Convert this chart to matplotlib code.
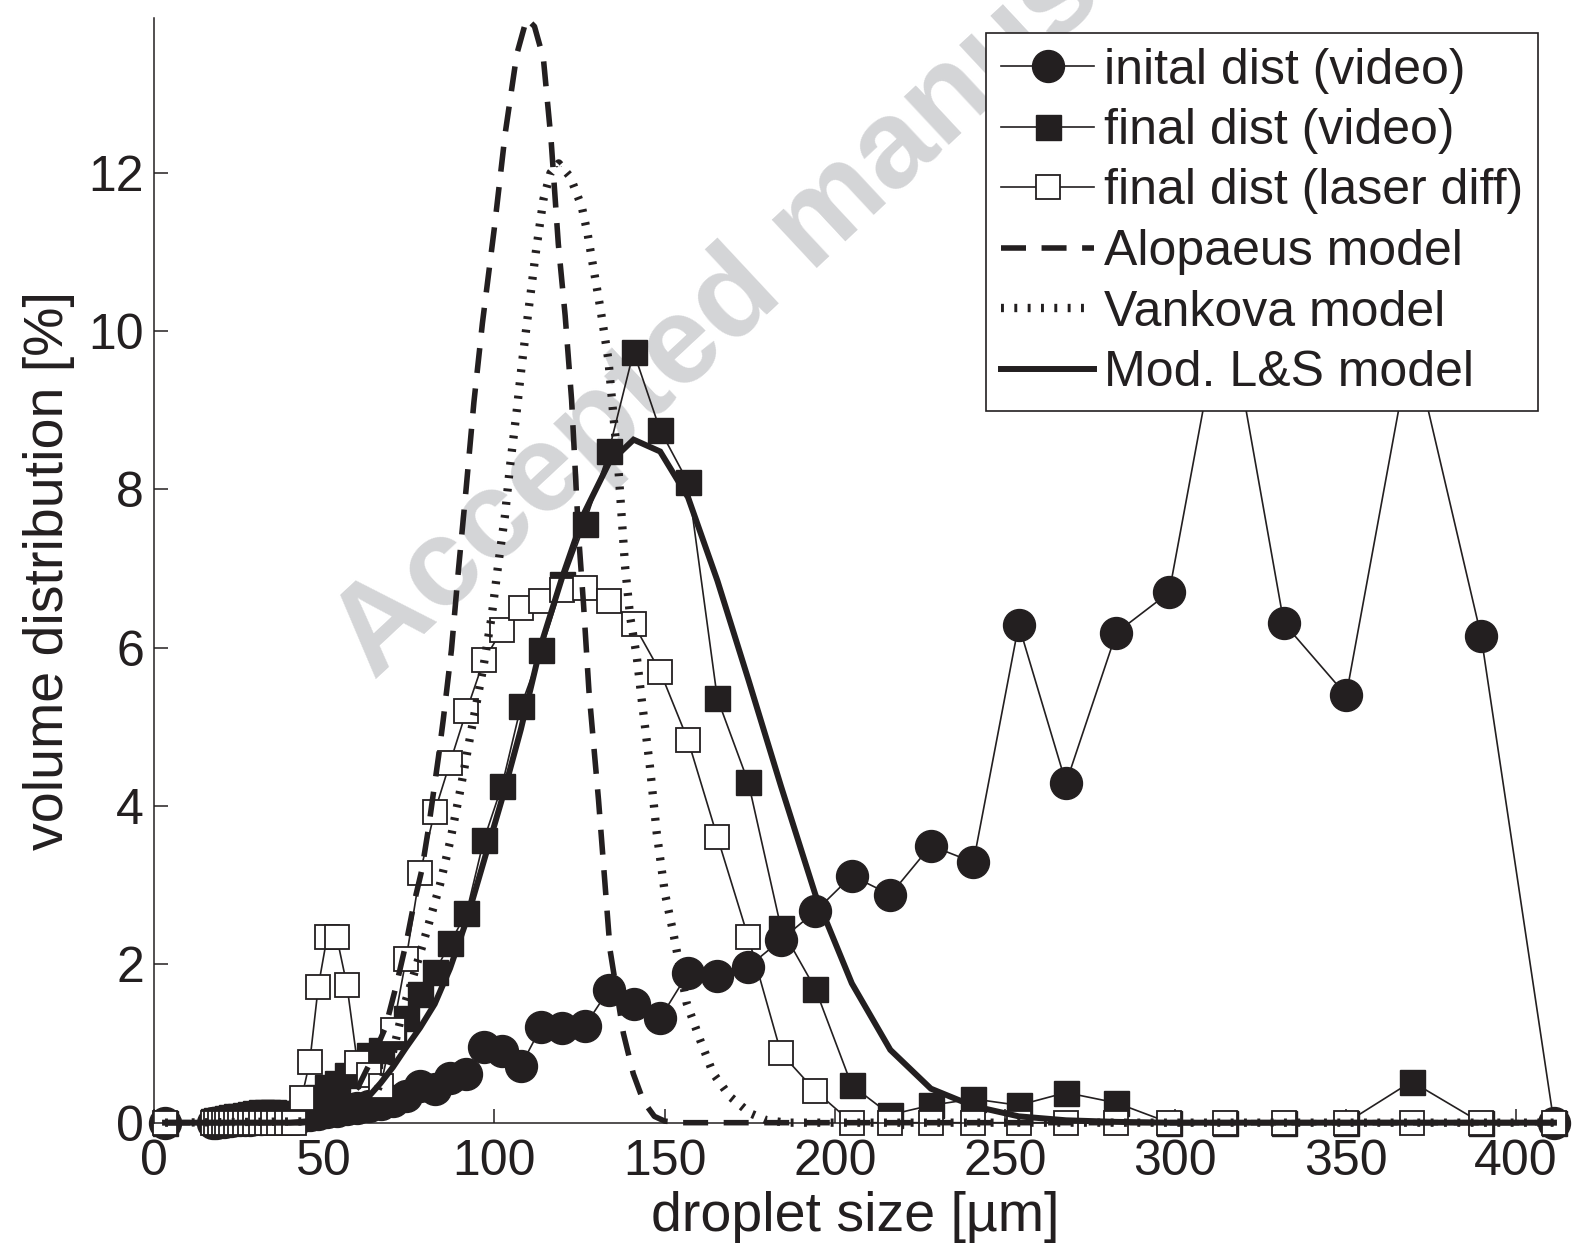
import matplotlib
matplotlib.use("Agg")
import matplotlib.pyplot as plt

plt.rcParams['font.family'] = ['Liberation Sans', 'DejaVu Sans']

INK = '#231f20'

# Droplet size bin centres [um]
size_bins = [3.3, 17.4, 18.4, 19.4, 20.5, 21.6, 22.8, 24.0, 25.4, 26.8, 28.2,
             29.8, 31.4, 33.2, 35.0, 36.9, 39.0, 41.1, 43.4, 45.8, 48.3, 50.9,
             53.7, 56.7, 59.8, 63.1, 66.6, 70.2, 74.1, 78.2, 82.5, 87.0, 91.8,
             96.9, 102.2, 107.8, 113.8, 120.0, 126.6, 133.6, 140.9, 148.7,
             156.9, 165.5, 174.6, 184.2, 194.3, 205.0, 216.3, 228.2, 240.7,
             254.0, 267.9, 282.7, 298.2, 314.6, 331.9, 350.2, 369.4, 389.8,
             411.2]

# Volume distributions [%]
initial_video = [0, 0.0, 0.0, 0.01, 0.01, 0.02, 0.02, 0.03, 0.03, 0.04, 0.04,
                 0.05, 0.05, 0.06, 0.06, 0.07, 0.07, 0.08, 0.09, 0.10, 0.11,
                 0.13, 0.15, 0.17, 0.19, 0.21, 0.24, 0.28, 0.34, 0.46, 0.43,
                 0.56, 0.62, 0.95, 0.91, 0.72, 1.21, 1.19, 1.22, 1.68, 1.50,
                 1.32, 1.89, 1.85, 1.97, 2.31, 2.67, 3.12, 2.88, 3.50, 3.29,
                 6.29, 4.29, 6.19, 6.70, 10.5, 6.31, 5.40, 9.9, 6.15, 0]

final_video = [0, 0.02, 0.03, 0.04, 0.05, 0.06, 0.07, 0.08, 0.09, 0.10, 0.11,
               0.12, 0.13, 0.13, 0.13, 0.12, 0.10, 0.09, 0.12, 0.20, 0.33,
               0.45, 0.50, 0.60, 0.75, 0.85, 0.92, 1.10, 1.32, 1.63, 1.90,
               2.27, 2.65, 3.57, 4.25, 5.26, 5.97, 6.80, 7.57, 8.48, 9.74,
               8.75, 8.09, 5.36, 4.30, 2.46, 1.69, 0.47, 0.10, 0.22, 0.30,
               0.22, 0.38, 0.25, 0, 0, 0, 0, 0.52, 0, 0]

laser_diff = [0, 0, 0, 0, 0, 0, 0, 0, 0, 0, 0, 0, 0, 0, 0, 0, 0, 0,
              0.31, 0.77, 1.72, 2.35, 2.35, 1.74, 0.75, 0.60, 0.46, 1.17,
              2.07, 3.16, 3.93, 4.55, 5.20, 5.84, 6.22, 6.50, 6.59, 6.73,
              6.75, 6.59, 6.30, 5.70, 4.83, 3.61, 2.34, 0.88, 0.40,
              0, 0, 0, 0, 0, 0, 0, 0, 0, 0, 0, 0, 0, 0]

# Model predictions
alopaeus_x = [3.3, 40, 45, 50, 55, 60, 64, 68, 71.3, 74.3, 76.4, 78.7, 80.6,
              82.1, 83.6, 85.0, 87.4, 89.5, 91.7, 94.0, 96.5, 100.0, 103.2,
              106.6, 109.5, 111.8, 114.4, 116.7, 118.8, 120.8, 122.7, 123.7,
              124.7, 126.2, 127.8, 130.6, 132.5, 134.0, 137.9, 140.8, 143.8,
              147.0, 150.0, 155.0, 411.2]
alopaeus_y = [0, 0, 0.02, 0.08, 0.2, 0.45, 0.8, 1.2, 1.75, 2.31, 2.77, 3.19,
              3.70, 4.16, 4.62, 5.09, 5.97, 7.0, 8.0, 9.1, 10.1, 11.3, 12.5,
              13.5, 13.95, 13.85, 13.45, 12.4, 11.1, 10.2, 9.13, 8.3, 7.45,
              6.55, 5.45, 4.08, 3.02, 2.18, 1.13, 0.62, 0.27, 0.08, 0.02, 0, 0]

vankova_x = [3.3, 55, 60, 65, 70, 73, 76.2, 80, 84, 87, 90, 93, 96.8, 99.2,
             101.2, 103.1, 104.6, 106.6, 108, 110, 112.2, 114.4, 116.5, 118.9,
             122.3, 125.7, 127.4, 129.1, 131.1, 133.5, 135, 136.4, 137.4,
             138.4, 139.9, 141.8, 143.3, 145.7, 147.7, 150.1, 152.6, 156.5,
             160.4, 164.3, 169.2, 175.1, 180, 186, 411.2]
vankova_y = [0, 0.02, 0.1, 0.35, 0.85, 1.4, 1.85, 2.4, 3.0, 3.55, 4.2, 4.9,
             5.76, 6.39, 7.07, 7.66, 8.29, 9.0, 9.55, 10.25, 11.0, 11.66, 12.0,
             12.12, 11.95, 11.57, 11.23, 10.8, 10.3, 9.64, 8.92, 8.29, 7.66,
             7.03, 6.39, 5.9, 5.34, 4.5, 3.66, 2.9, 2.39, 1.51, 1.05, 0.62,
             0.33, 0.12, 0.03, 0, 0]

ls_x = [3.3, 43.4, 45.8, 48.3, 50.9, 53.7, 56.7, 59.8, 63.1, 66.6, 70.2,
        74.1, 78.2, 82.5, 87.0, 91.8, 96.9, 102.2, 107.8, 113.8, 120.0,
        126.6, 133.6, 140.9, 148.7, 156.9, 165.5, 174.6, 184.2, 194.3, 205.0,
        216.3, 228.2, 240.7, 254.0, 267.9, 282.7, 298.2, 411.2]
ls_y = [0, 0, 0.01, 0.02, 0.04, 0.07, 0.12, 0.2, 0.33, 0.5, 0.7, 0.95, 1.2,
        1.5, 1.95, 2.55, 3.3, 4.08, 4.97, 6.05, 6.9, 7.72, 8.33, 8.63, 8.48,
        7.9, 6.85, 5.6, 4.25, 2.88, 1.76, 0.92, 0.43, 0.21, 0.08, 0.03, 0.01,
        0, 0]

x_ticks = [0, 50, 100, 150, 200, 250, 300, 350, 400]
y_ticks = [0, 2, 4, 6, 8, 10, 12]

fig = plt.figure(figsize=(15.76, 12.47), dpi=100)
fig.patch.set_facecolor('white')

# watermark behind the axes
fig.text(0.2376, 0.4543, 'Accepted manuscript', rotation=43,
         rotation_mode='anchor', ha='left', va='baseline', fontsize=90,
         fontweight='bold', color='#d4d5d7', zorder=-1)

ax = fig.add_axes([0.0976, 0.0997, 0.8897, 0.8858])
ax.patch.set_visible(False)

ax.plot(size_bins, initial_video, '-', color=INK, lw=1.2, marker='o', ms=23,
        mfc=INK, mec=INK, clip_on=False, label='inital dist (video)')
ax.plot(size_bins, final_video, '-', color=INK, lw=1.2, marker='s', ms=18,
        mfc=INK, mec=INK, mew=1.0, clip_on=False, label='final dist (video)')
ax.plot(size_bins, laser_diff, '-', color=INK, lw=1.2, marker='s', ms=17,
        mfc='white', mec=INK, mew=1.3, clip_on=False,
        label='final dist (laser diff)')
ax.plot(alopaeus_x, alopaeus_y, color=INK, lw=4.0, dashes=(4.5, 2.8),
        clip_on=False, label='Alopaeus model')
ax.plot(vankova_x, vankova_y, color=INK, lw=6.0, dashes=(0.35, 1.25),
        clip_on=False, label='Vankova model')
ax.plot(ls_x, ls_y, color=INK, lw=4.3, solid_joinstyle='miter',
        clip_on=False, label='Mod. L&S model')

ax.set_xlim(0, 411.8)
ax.set_ylim(0, 13.956)
ax.set_xticks(x_ticks)
ax.set_yticks(y_ticks)

for side in ('top', 'right'):
    ax.spines[side].set_visible(False)
for side in ('left', 'bottom'):
    ax.spines[side].set_linewidth(1.1)
    ax.spines[side].set_color(INK)

ax.tick_params(direction='in', length=10, width=1.1, colors=INK,
               labelsize=36)
ax.tick_params(axis='x', pad=12)
ax.tick_params(axis='y', pad=7)

ax.set_xlabel('droplet size [µm]', fontsize=40, color=INK)
ax.xaxis.set_label_coords(0.5, -0.0618)
ax.set_ylabel('volume distribution [%]', fontsize=40, color=INK)
ax.yaxis.set_label_coords(-0.0562, 0.5)

leg = ax.legend(loc='upper right', bbox_to_anchor=(1538 / 1576, 1 - 33 / 1247),
                bbox_transform=fig.transFigure, fontsize=36, frameon=True,
                fancybox=False, edgecolor=INK, framealpha=1, borderpad=0.29,
                handlelength=1.87, handletextpad=0.2, labelspacing=0.29,
                borderaxespad=0)
leg.get_frame().set_linewidth(1.2)
for t in leg.get_texts():
    t.set_color(INK)

fig.savefig('out.png', dpi=100)
